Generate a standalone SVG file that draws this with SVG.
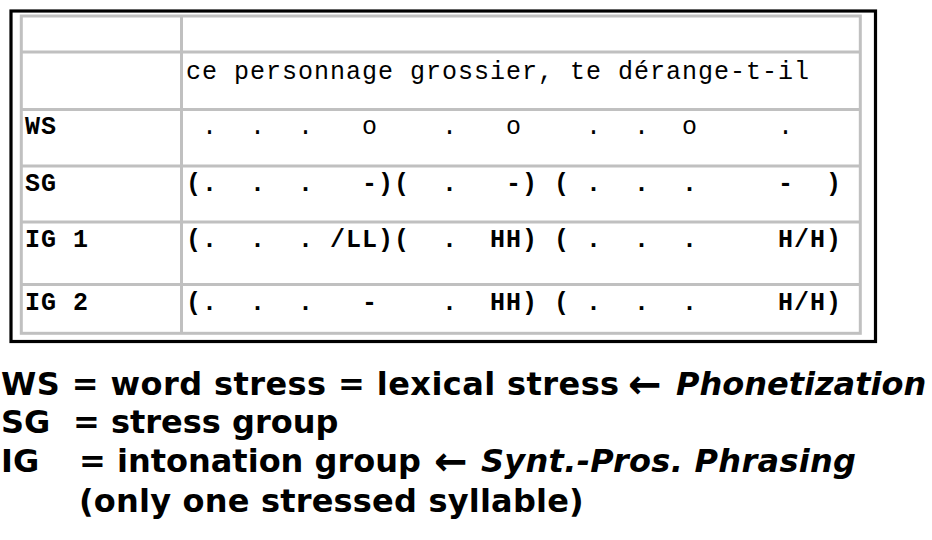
<svg xmlns="http://www.w3.org/2000/svg" width="932" height="540" viewBox="0 0 932 540">
<style>
.grid{fill:none;stroke:#c0c0c0;stroke-width:3}
.mono{font-family:"Courier New","Liberation Mono",monospace;font-size:25px;letter-spacing:1px;fill:#000}
.b{font-weight:bold}
.leg{font-family:Verdana,"DejaVu Sans",sans-serif;font-size:32px;font-weight:bold;fill:#000}
.it{font-style:italic}
.arr{font-size:40px}
</style>
<rect width="932" height="540" fill="#fff"/>
<g id="table">
<rect x="11" y="11" width="864.5" height="330.5" fill="#fff" stroke="#000" stroke-width="3.2"/>
<rect class="grid" x="21.3" y="16" width="839" height="317.3"/>
<line class="grid" x1="181.5" y1="16" x2="181.5" y2="333.3"/>
<line class="grid" x1="21.3" y1="52" x2="860.3" y2="52"/>
<line class="grid" x1="21.3" y1="109.5" x2="860.3" y2="109.5"/>
<line class="grid" x1="21.3" y1="166" x2="860.3" y2="166"/>
<line class="grid" x1="21.3" y1="222" x2="860.3" y2="222"/>
<line class="grid" x1="21.3" y1="284.5" x2="860.3" y2="284.5"/>
</g>
<g id="row-sentence">
<text class="mono" x="186" y="79" xml:space="preserve">ce personnage grossier, te dérange-t-il</text>
</g>
<g id="row-ws">
<text class="mono b" x="25" y="134">WS</text>
<text class="mono" x="186" y="134" xml:space="preserve"> .  .  .   o    .   o    .  .  o     .</text>
</g>
<g id="row-sg">
<text class="mono b" x="25" y="191">SG</text>
<text class="mono b" x="186" y="191" xml:space="preserve">(.  .  .   -)(  .   -) ( .  .  .     -  )</text>
</g>
<g id="row-ig1">
<text class="mono b" x="25" y="247" xml:space="preserve">IG 1</text>
<text class="mono b" x="186" y="247" xml:space="preserve">(.  .  . /LL)(  .  HH) ( .  .  .     H/H)</text>
</g>
<g id="row-ig2">
<text class="mono b" x="25" y="310" xml:space="preserve">IG 2</text>
<text class="mono b" x="186" y="310" xml:space="preserve">(.  .  .   -    .  HH) ( .  .  .     H/H)</text>
</g>
<g id="legend">
<text class="leg" x="1" y="395" letter-spacing="0.42">WS = word stress = lexical stress</text>
<text class="leg arr" x="628" y="398">←</text>
<text class="leg it" x="676" y="395">Phonetization</text>
<text class="leg" x="1" y="433">SG<tspan x="73">= stress group</tspan></text>
<text class="leg" x="1" y="472">IG<tspan x="79">= intonation group</tspan></text>
<text class="leg arr" x="434" y="475">←</text>
<text class="leg it" x="481" y="472" letter-spacing="0.3">Synt.-Pros. Phrasing</text>
<text class="leg" x="79" y="512" letter-spacing="0.2">(only one stressed syllable)</text>
</g>
</svg>
